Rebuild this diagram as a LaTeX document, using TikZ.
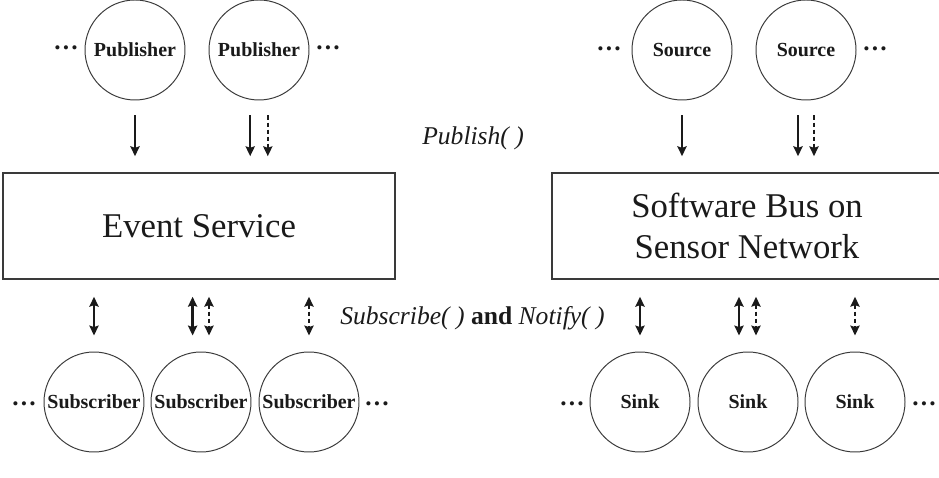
\documentclass[tikz,border=0pt]{standalone}
\usepackage{fontspec}
\setmainfont{Liberation Serif}
\usetikzlibrary{arrows.meta,positioning,calc}
\definecolor{ink}{HTML}{1A1A1A}
\definecolor{rim}{HTML}{3A3A3A}
\tikzset{
  ent/.style={circle,draw=rim,line width=0.7pt,minimum size=2.5cm,inner sep=0pt,font=\bfseries\fontsize{14.2}{16}\selectfont,text=ink},
  svc/.style={draw=rim,line width=1.1pt,minimum height=2.65cm,align=center,inner sep=2pt,font=\fontsize{24.7}{29.2}\selectfont,text=ink},
  more/.style={font=\bfseries\fontsize{18}{20}\selectfont,inner sep=0pt,text=ink},
  call/.style={font=\fontsize{18.2}{21}\selectfont,inner sep=0pt,text=ink},
  push/.style={-{Stealth[length=7pt,width=6.5pt,inset=1pt]},line width=1.7pt,ink,shorten <=0.375cm,shorten >=0.4cm},
  pushd/.style={push,line width=1.4pt,dash pattern=on 3pt off 2pt},
  talk/.style={{Stealth[length=7pt,width=6.5pt,inset=1pt]}-{Stealth[length=7pt,width=6.5pt,inset=1pt]},line width=1.7pt,ink,shorten <=0.425cm,shorten >=0.4cm},
  talkd/.style={talk,line width=1.4pt,dash pattern=on 3pt off 2pt}
}

\begin{document}
\begin{tikzpicture}[x=1cm,y=1cm]
\useasboundingbox (0,0) rectangle (23.475,11.925);
% ===================== left: event service =====================
\node[ent] (pubA) at (3.375,10.675) {Publisher};
\node[ent] (pubB) at (6.475,10.675) {Publisher};
\node[more] (dpA) at (1.65,10.725) {…};
\node[more] (dpB) at (8.2,10.725) {…};
\node[svc,minimum width=9.8cm] (evsvc) at (4.975,6.275) {Event Service};
\node[ent] (subA) at (2.35,1.875) {Subscriber};
\node[ent] (subB) at (5.025,1.875) {Subscriber};
\node[ent] (subC) at (7.725,1.875) {Subscriber};
\node[more] (dsA) at (0.6,1.825) {…};
\node[more] (dsB) at (9.425,1.825) {…};
% publish arrows
\coordinate (pubBl) at ([xshift=-0.22cm]pubB.south);
\coordinate (pubBr) at ([xshift=0.22cm]pubB.south);
\draw[push] (pubA.south) -- (pubA |- evsvc.north);
\draw[push] (pubBl) -- (pubBl |- evsvc.north);
\draw[pushd] (pubBr) -- (pubBr |- evsvc.north);
% subscribe / notify arrows
\coordinate (subBl) at ([xshift=-0.21cm]subB.north);
\coordinate (subBr) at ([xshift=0.2cm]subB.north);
\draw[talk] (subA |- evsvc.south) -- (subA.north);
\draw[talk] (subBl |- evsvc.south) -- (subBl);
\draw[talkd] (subBr |- evsvc.south) -- (subBr);
\draw[talkd] (subC |- evsvc.south) -- (subC.north);
% ===================== middle: calls =====================
\node[call,anchor=base west] (lpub) at (10.55,8.3) {\textit{Publish( )}};
\node[call,anchor=base west] (lsub) at (8.5,3.8) {\textit{Subscribe( )} \textbf{and} \textit{Notify( )}};
% ===================== right: software bus =====================
\node[ent] (srcA) at (17.05,10.675) {Source};
\node[ent] (srcB) at (20.15,10.675) {Source};
\node[more] (drA) at (15.225,10.7) {…};
\node[more] (drB) at (21.875,10.7) {…};
\node[svc,minimum width=9.75cm] (swbus) at (18.675,6.275) {Software Bus on\\Sensor Network};
\node[ent] (sinkA) at (16.0,1.875) {Sink};
\node[ent] (sinkB) at (18.7,1.875) {Sink};
\node[ent] (sinkC) at (21.375,1.875) {Sink};
\node[more] (dkA) at (14.3,1.825) {…};
\node[more] (dkB) at (23.1,1.825) {…};
% publish arrows
\coordinate (srcBl) at ([xshift=-0.2cm]srcB.south);
\coordinate (srcBr) at ([xshift=0.2cm]srcB.south);
\draw[push] (srcA.south) -- (srcA |- swbus.north);
\draw[push] (srcBl) -- (srcBl |- swbus.north);
\draw[pushd] (srcBr) -- (srcBr |- swbus.north);
% subscribe / notify arrows
\coordinate (sinkBl) at ([xshift=-0.225cm]sinkB.north);
\coordinate (sinkBr) at ([xshift=0.2cm]sinkB.north);
\draw[talk] (sinkA |- swbus.south) -- (sinkA.north);
\draw[talk] (sinkBl |- swbus.south) -- (sinkBl);
\draw[talkd] (sinkBr |- swbus.south) -- (sinkBr);
\draw[talkd] (sinkC |- swbus.south) -- (sinkC.north);
\end{tikzpicture}
\end{document}
